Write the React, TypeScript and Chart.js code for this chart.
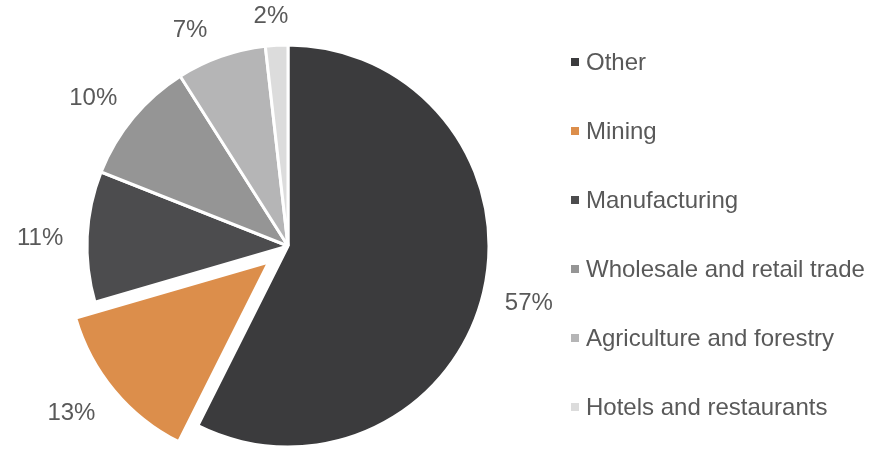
import React, { useEffect, useRef } from "react";
import { Chart, registerables } from "chart.js";

Chart.register(...registerables);

const categories = [
  "Other",
  "Mining",
  "Manufacturing",
  "Wholesale and retail trade",
  "Agriculture and forestry",
  "Hotels and restaurants",
];
const shares = [57.4, 13.1, 10.5, 10.0, 7.2, 1.8];
const sliceColors = ["#3b3b3d", "#dc8e4b", "#4c4c4e", "#959595", "#b5b5b6", "#dcdcdc"];
const explodePx = [0, 25, 0, 0, 0, 0];
const labelExtra = [0, 5, 0, 0, 0, 0];
const labelAngleNudgeDeg = [0, 2, -1, -2.5, -5, -1];

const FONT = "Arial, 'Liberation Sans', sans-serif";
const TEXT = "#595959";

const explodePlugin = {
  id: "explodeSlices",
  afterDatasetsUpdate(chart: any) {
    const meta = chart.getDatasetMeta(0);
    meta.data.forEach((arc: any, i: number) => {
      const d = explodePx[i];
      if (!d) return;
      const mid = (arc.startAngle + arc.endAngle) / 2;
      arc.x += Math.cos(mid) * d;
      arc.y += Math.sin(mid) * d;
    });
  },
};

const labelPlugin = {
  id: "outsideLabels",
  afterDatasetsDraw(chart: any) {
    const ctx = chart.ctx;
    const meta = chart.getDatasetMeta(0);
    const { left, right, top, bottom } = chart.chartArea;
    const cx = (left + right) / 2;
    const cy = (top + bottom) / 2;
    ctx.save();
    ctx.font = `24px ${FONT}`;
    ctx.fillStyle = TEXT;
    ctx.textAlign = "center";
    ctx.textBaseline = "middle";
    meta.data.forEach((arc: any, i: number) => {
      const mid = (arc.startAngle + arc.endAngle) / 2 + (labelAngleNudgeDeg[i] * Math.PI) / 180;
      const c = Math.cos(mid);
      const s = Math.sin(mid);
      const r = arc.outerRadius + explodePx[i] + 28 + 19 * Math.abs(c) + labelExtra[i];
      ctx.fillText(`${Math.round(shares[i])}%`, cx + r * c, cy + r * s);
    });
    ctx.restore();
  },
};

const legendPlugin = {
  id: "sideLegend",
  afterDraw(chart: any) {
    const ctx = chart.ctx;
    const x0 = 571;
    const y0 = 62;
    const step = 69;
    ctx.save();
    ctx.font = `24px ${FONT}`;
    ctx.textBaseline = "middle";
    ctx.textAlign = "left";
    categories.forEach((name, i) => {
      const yc = y0 + i * step;
      ctx.fillStyle = sliceColors[i];
      ctx.fillRect(x0, yc - 4, 8, 8);
      ctx.fillStyle = TEXT;
      ctx.fillText(name, x0 + 15, yc + 1);
    });
    ctx.restore();
  },
};

export default function App() {
  const ref = useRef<HTMLCanvasElement | null>(null);
  useEffect(() => {
    if (!ref.current) return;
    const chart = new Chart(ref.current, {
      type: "pie",
      data: {
        labels: categories,
        datasets: [
          {
            data: shares,
            backgroundColor: sliceColors,
            borderColor: "#ffffff",
            borderWidth: 3,
          },
        ],
      },
      options: {
        animation: false,
        responsive: false,
        maintainAspectRatio: false,
        layout: { padding: { left: 85.5, right: 378.5, top: 43.5, bottom: 1.5 } },
        plugins: {
          legend: { display: false },
          tooltip: { enabled: false },
        },
      },
      plugins: [explodePlugin, labelPlugin, legendPlugin],
    });
    return () => chart.destroy();
  }, []);
  return (
    <div style={{ position: "fixed", left: 0, top: 0, width: 869, height: 450, overflow: "hidden", background: "#fff" }}>
      <canvas ref={ref} width={869} height={450} style={{ display: "block" }} />
    </div>
  );
}
